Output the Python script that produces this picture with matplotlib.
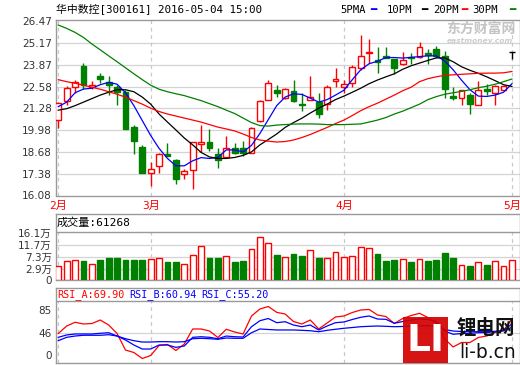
import matplotlib
matplotlib.use('Agg')
import matplotlib.pyplot as plt
from matplotlib.patches import Rectangle
from matplotlib.transforms import ScaledTranslation

plt.rcParams['font.family'] = ['DejaVu Sans', 'Noto Sans CJK SC']
MONO = ['DejaVu Sans Mono', 'Noto Sans CJK SC']

# daily candles 2016-02-15 .. 2016-05-04
opens = [20.57, 21.72, 22.55, 23.78, 22.55, 23.22, 22.87, 22.54, 22.24, 20.18,
         18.99, 17.44, 17.82, 18.53, 18.19, 17.38, 17.59, 19.17, 19.26, 18.53,
         18.37, 18.93, 18.93, 18.64, 20.51, 21.80, 22.35, 21.90, 22.33, 21.53,
         21.80, 21.64, 21.53, 22.93, 22.55, 22.79, 23.68, 24.59, 24.18, 24.41,
         24.22, 23.94, 24.34, 24.34, 24.59, 24.81, 24.38, 22.03, 21.92, 22.10,
         21.48, 22.43, 22.20, 22.37, 24.62]
highs = [21.68, 22.60, 22.99, 23.98, 22.89, 23.40, 23.22, 22.69, 22.37, 20.26,
         19.07, 18.07, 18.59, 19.23, 18.28, 17.64, 19.30, 20.31, 20.02, 18.93,
         19.62, 19.23, 19.33, 20.14, 21.80, 22.99, 22.69, 22.51, 22.99, 22.20,
         23.18, 22.20, 22.69, 23.68, 22.99, 23.88, 25.66, 25.40, 24.96, 24.96,
         24.24, 24.67, 24.59, 25.26, 24.83, 25.00, 24.70, 22.55, 22.40, 22.20,
         22.89, 22.72, 22.69, 22.70, 24.62]
lows = [20.12, 21.48, 22.20, 22.46, 22.44, 22.81, 22.10, 21.50, 20.02, 18.53,
        17.41, 16.65, 17.44, 18.42, 16.75, 17.09, 16.45, 18.69, 18.72, 17.74,
        18.33, 18.53, 18.43, 18.60, 20.49, 21.80, 21.98, 21.81, 21.66, 21.12,
        21.77, 20.71, 21.19, 22.55, 22.20, 22.55, 23.58, 23.98, 23.37, 24.27,
        23.34, 23.88, 23.94, 24.30, 23.94, 24.27, 21.87, 21.78, 21.50, 20.97,
        21.46, 22.10, 21.50, 22.31, 24.22]
closes = [21.62, 22.52, 22.85, 22.69, 22.65, 23.06, 22.69, 22.28, 20.02, 19.33,
          17.44, 17.68, 18.53, 18.43, 17.05, 17.52, 19.25, 19.25, 18.89, 18.19,
          18.93, 18.64, 18.60, 20.12, 21.70, 22.79, 22.22, 22.43, 21.70, 21.47,
          21.98, 20.97, 22.55, 23.05, 22.75, 23.74, 24.41, 24.65, 24.06, 24.31,
          23.68, 24.14, 24.28, 24.93, 24.49, 24.41, 22.43, 21.91, 22.35, 21.56,
          22.37, 22.32, 22.64, 22.64, 24.62]
# volume in 万
vol = [3.73, 5.79, 6.16, 5.79, 4.71, 6.16, 6.99, 6.99, 6.16, 6.16,
       6.16, 6.52, 6.88, 5.18, 5.18, 4.71, 7.86, 11.22, 6.99, 6.99,
       7.49, 5.18, 5.79, 10.13, 14.36, 12.19, 7.96, 7.24, 8.33, 7.60,
       9.77, 6.99, 6.77, 8.94, 7.24, 7.60, 10.86, 10.50, 8.33, 5.79,
       6.16, 6.41, 5.43, 6.41, 5.90, 6.16, 8.69, 6.99, 4.24, 3.99,
       5.32, 4.35, 5.69, 3.99, 6.13]

ma5 = [21.38, 21.65, 22.21, 22.43, 22.48, 22.69, 22.83, 22.72, 22.21, 21.44,
       20.55, 19.66, 18.89, 18.29, 17.85, 17.85, 18.15, 18.34, 18.29, 18.35,
       18.80, 18.80, 18.68, 19.07, 19.78, 20.61, 21.44, 21.95, 22.15, 22.11,
       21.89, 21.65, 21.80, 22.07, 22.36, 22.99, 23.58, 23.94, 24.09, 24.31,
       24.31, 24.28, 24.32, 24.37, 24.41, 24.41, 24.11, 23.58, 22.96, 22.39,
       22.01, 21.99, 22.07, 22.24, 22.75]
ma10 = [21.17, 21.26, 21.44, 21.65, 21.86, 22.07, 22.24, 22.39, 22.39, 22.27,
        21.95, 21.53, 20.94, 20.46, 19.99, 19.51, 19.10, 18.65, 18.38, 18.29,
        18.29, 18.35, 18.47, 18.68, 19.10, 19.42, 19.75, 20.14, 20.43, 20.69,
        21.00, 21.29, 21.53, 21.80, 22.01, 22.24, 22.48, 22.75, 22.97, 23.16,
        23.34, 23.61, 23.82, 23.98, 24.14, 24.29, 24.29, 24.06, 23.76, 23.55,
        23.37, 23.16, 22.93, 22.69, 22.59]
ma20 = [22.99, 22.87, 22.78, 22.66, 22.54, 22.42, 22.27, 22.12, 21.95, 21.74,
        21.53, 21.29, 21.09, 20.94, 20.82, 20.70, 20.58, 20.46, 20.31, 20.16,
        20.05, 19.93, 19.75, 19.54, 19.39, 19.32, 19.27, 19.30, 19.39, 19.54,
        19.72, 19.93, 20.14, 20.37, 20.58, 20.85, 21.14, 21.38, 21.59, 21.83,
        22.07, 22.33, 22.54, 22.87, 23.05, 23.16, 23.25, 23.28, 23.31, 23.34,
        23.37, 23.38, 23.38, 23.40, 23.48]
ma30 = [26.25, 26.05, 25.81, 25.51, 25.12, 24.77, 24.41, 24.06, 23.70, 23.34,
        22.99, 22.66, 22.42, 22.27, 22.15, 22.04, 21.89, 21.74, 21.56, 21.38,
        21.17, 20.97, 20.70, 20.43, 20.25, 20.22, 20.28, 20.31, 20.34, 20.35,
        20.35, 20.34, 20.31, 20.31, 20.31, 20.33, 20.35, 20.46, 20.58, 20.73,
        20.94, 21.11, 21.32, 21.53, 21.80, 21.98, 22.12, 22.21, 22.29, 22.39,
        22.51, 22.60, 22.72, 22.87, 23.03]

rsi_a = [44.6, 57.5, 63.9, 61.0, 61.8, 67.8, 59.2, 44.6, 16.3, 12.0,
         1.7, 6.9, 24.0, 25.8, 15.5, 26.6, 52.4, 52.4, 48.9, 37.8,
         51.9, 47.2, 43.8, 74.7, 86.7, 91.0, 81.0, 78.1, 65.2, 61.0,
         67.8, 52.4, 62.7, 73.0, 74.7, 80.7, 85.0, 85.9, 76.4, 73.8,
         61.8, 70.4, 75.5, 79.3, 72.1, 62.7, 35.2, 21.5, 29.2, 29.2,
         37.8, 40.4, 46.4, 49.8, 69.90]
rsi_b = [38.1, 42.1, 43.8, 43.8, 43.8, 45.0, 46.0, 40.3, 33.5, 24.9,
         18.0, 18.0, 24.9, 24.9, 20.9, 23.2, 38.1, 39.1, 38.1, 35.7,
         40.3, 39.1, 38.6, 56.3, 66.6, 70.4, 63.2, 64.9, 59.2, 56.3,
         59.2, 50.7, 57.5, 63.2, 64.4, 68.7, 72.5, 74.7, 69.5, 69.0,
         62.2, 65.2, 67.8, 69.5, 68.7, 65.2, 48.9, 43.3, 44.6, 45.0,
         46.0, 46.4, 47.7, 49.8, 60.94]
rsi_c = [32.3, 38.1, 40.3, 41.6, 41.6, 41.6, 42.6, 40.3, 35.7, 32.3,
         30.0, 30.0, 30.6, 30.6, 30.0, 30.6, 35.7, 36.4, 35.7, 34.7,
         36.9, 36.4, 36.4, 46.0, 52.4, 51.5, 50.7, 50.7, 50.7, 50.1,
         49.4, 47.7, 50.1, 51.9, 53.6, 54.9, 56.3, 57.0, 57.5, 57.0,
         56.3, 56.7, 57.5, 57.9, 58.0, 56.7, 51.5, 48.9, 48.1, 47.7,
         47.7, 47.7, 48.4, 49.4, 55.20]

month_idx = [0, 11, 34, 54]
month_lab = ['2月', '3月', '4月', '5月']
price_ticks = [16.08, 17.38, 18.68, 19.98, 21.28, 22.58, 23.87, 25.17, 26.47]
vol_ticks = [2.9, 7.3, 11.7, 16.1]
rsi_ticks = [0, 46, 85]
ma_names = ['5PMA', '10PM', '20PM', '30PM']

RED = '#ff0000'
GREEN = '#008000'
BLUE = '#0000ff'
FRAME = '#9a9a9a'
GRID = '#d4d4d4'
DASH = '#c8c8c8'

W, H = 520, 365
fig = plt.figure(figsize=(W / 100, H / 100), dpi=100)


def box(l, t, r, b):
    return [l / W, 1 - b / H, (r - l) / W, (b - t) / H]


ax_p = fig.add_axes(box(56, 20, 519.5, 195.5))
ax_v = fig.add_axes(box(56, 214.3, 519.5, 280.3))
ax_r = fig.add_axes(box(56, 288, 519.5, 363.3))

n = len(closes)
x = list(range(n))
w = 0.7

for ax in (ax_p, ax_v, ax_r):
    ax.set_xlim(-0.27, 54.9)
    for s in ax.spines.values():
        s.set_color(FRAME)
        s.set_linewidth(1)
    ax.set_xticks(month_idx)
    ax.tick_params(length=0, labelsize=7.5, labelcolor='#333333', pad=3)

# ---- price panel
ax_p.set_ylim(16.08, 26.55)
ax_p.set_yticks(price_ticks, ['%.2f' % t for t in price_ticks])
ax_p.set_xticklabels(month_lab)
ax_p.tick_params(axis='x', labelcolor=RED, labelsize=8, pad=4)
for lab in ax_p.get_xticklabels():
    lab.set_family(MONO)
for t in price_ticks[1:-1]:
    ax_p.axhline(t, color=GRID, lw=0.9, zorder=0)
for m in month_idx:
    ax_p.axvline(m, color=DASH, lw=0.9, ls=(0, (3, 3)), zorder=0)

for i in x:
    o, h, l, c = opens[i], highs[i], lows[i], closes[i]
    col = RED if c > o else (GREEN if c < o else 'black')
    ax_p.vlines(i, l, h, color=col, lw=1, zorder=3)
    if c > o:
        ax_p.bar(i, c - o, bottom=o, width=w, facecolor='white',
                 edgecolor=col, lw=1, zorder=4)
    elif c < o:
        ax_p.bar(i, o - c, bottom=c, width=w, color=col, edgecolor=col,
                 lw=1, zorder=4)
    else:
        ax_p.hlines(o, i - w / 2, i + w / 2, color=col, lw=1, zorder=4)

ax_p.plot(x, ma5, color=BLUE, lw=0.9, zorder=5)
ax_p.plot(x, ma10, color='black', lw=0.9, zorder=5)
ax_p.plot(x, ma20, color=RED, lw=0.9, zorder=5)
ax_p.plot(x, ma30, color=GREEN, lw=0.9, zorder=5)

# ---- volume panel
vol_base = -1.3
ax_v.set_ylim(vol_base, 22.72)
ax_v.set_yticks([vol_base] + vol_ticks, ['0'] + ['%g万' % t for t in vol_ticks])
ax_v.tick_params(axis='x', labelbottom=False)
ax_v.axhline(vol_ticks[-1], color=FRAME, lw=1)
for t in vol_ticks[:-1]:
    ax_v.axhline(t, color=GRID, lw=0.9, zorder=0)
ax_v.vlines(month_idx, vol_base, vol_ticks[-1], color=DASH, lw=0.9,
            ls=(0, (3, 3)), zorder=0)
up = [closes[i] >= opens[i] for i in x]
ax_v.bar(x, [v - vol_base for v in vol], bottom=vol_base, width=w,
         color=['white' if u else GREEN for u in up],
         edgecolor=[RED if u else GREEN for u in up], lw=1, zorder=3)

# ---- RSI panel
ax_r.set_ylim(-6.52, 122.77)
ax_r.set_yticks(rsi_ticks, [str(t) for t in rsi_ticks])
ax_r.tick_params(axis='x', labelbottom=False)
ax_r.axhline(99.6, color=FRAME, lw=1)
ax_r.axhline(46, color=GRID, lw=0.9, zorder=0)
ax_r.vlines(month_idx, -6.52, 99.6, color=DASH, lw=0.9, ls=(0, (3, 3)), zorder=0)
ax_r.plot(x, rsi_a, color=RED, lw=0.9, zorder=4)
ax_r.plot(x, rsi_b, color=BLUE, lw=0.9, zorder=4)
ax_r.plot(x, rsi_c, color=BLUE, lw=0.9, zorder=4)
zero = ax_r.get_yticklabels()[0]
zero.set_transform(zero.get_transform() + ScaledTranslation(0, 0.045, fig.dpi_scale_trans))

# ---- texts
fig.text(56 / W, 1 - 10 / H, '华中数控[300161] 2016-05-04 15:00', family=MONO,
         fontsize=7.8, va='center')
leg_x = [340, 387, 433, 472]
dash_x = [370, 421, 461, 509]
for name, lx, dx, col in zip(ma_names, leg_x, dash_x, [BLUE, 'black', RED, GREEN]):
    fig.text(lx / W, 1 - 10 / H, name, family=MONO, fontsize=7.6, va='center')
    fig.text(dx / W, 1 - 10 / H, '━', family=MONO, fontsize=7.6, va='center', color=col)

fig.text(57 / W, 1 - 223 / H, '成交量:61268', family=MONO, fontsize=8, va='center')
fig.text(57 / W, 1 - 294.5 / H, 'RSI_A:69.90', family=MONO, fontsize=7.3, va='center', color=RED)
fig.text(129 / W, 1 - 294.5 / H, 'RSI_B:60.94', family=MONO, fontsize=7.3, va='center', color=BLUE)
fig.text(201 / W, 1 - 294.5 / H, 'RSI_C:55.20', family=MONO, fontsize=7.3, va='center', color=BLUE)

# watermarks
fig.text(446 / W, 1 - 28.5 / H, '东方财富网', family='Noto Sans CJK SC', fontsize=10,
         weight='bold', color='#c4c4c4', va='center', zorder=0)
fig.text(447 / W, 1 - 41 / H, 'eastmoney.com', fontsize=5.4, weight='bold',
         style='italic', color='#cccccc', va='center', zorder=0)
fig.add_artist(Rectangle((403 / W, 1 - 363 / H), 45 / W, 46 / H, transform=fig.transFigure,
                         facecolor='#d40000', edgecolor='none', alpha=0.92, zorder=10))
fig.text(425.5 / W, 1 - 341 / H, 'LI', fontsize=27, weight='bold', color='white',
         ha='center', va='center', zorder=11)
fig.text(457 / W, 1 - 327.5 / H, '锂电网', family='Noto Sans CJK SC', fontsize=14,
         weight='bold', color='#111111', va='center', zorder=11)
fig.text(459 / W, 1 - 352 / H, 'li-b.cn', fontsize=13.5, color='#111111',
         va='center', zorder=11)

fig.savefig('out.png', dpi=100, facecolor='white')
